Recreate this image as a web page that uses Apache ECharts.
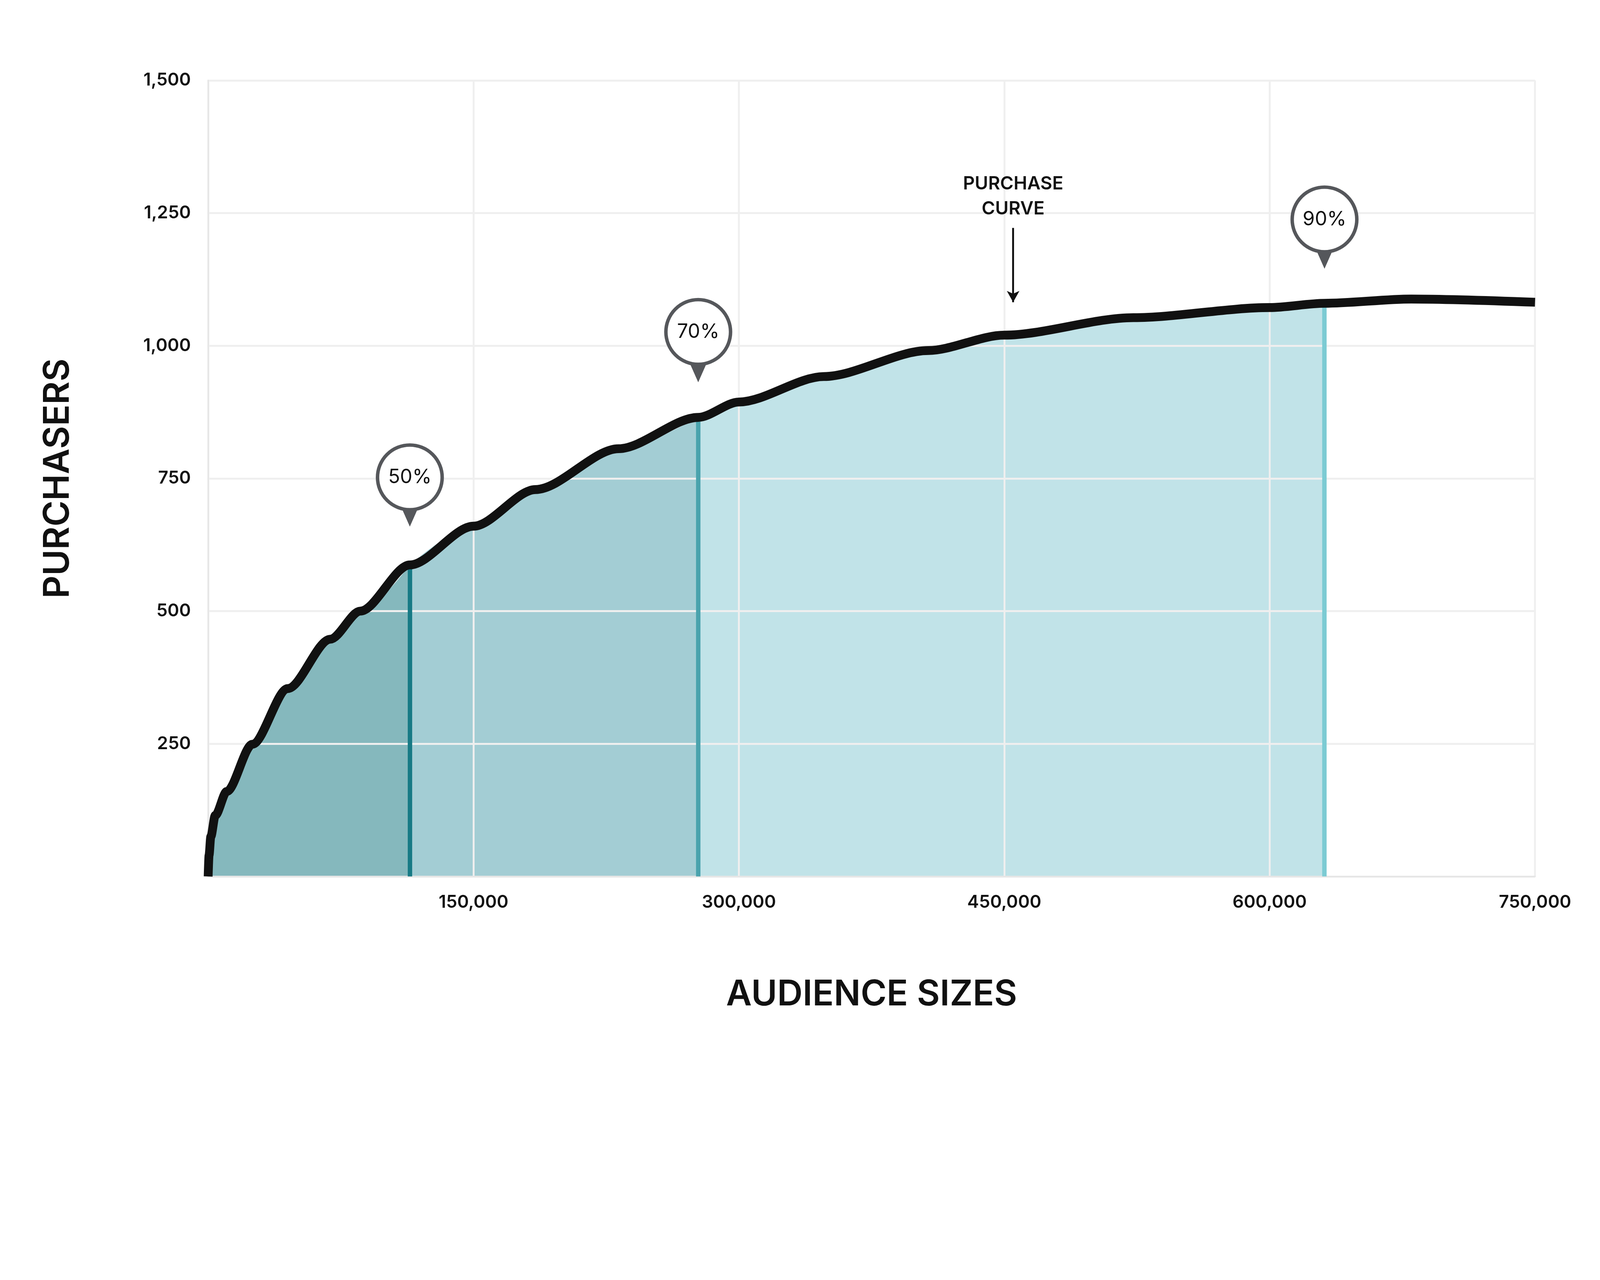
<!DOCTYPE html>
<html><head><meta charset="utf-8">
<script src="https://cdn.jsdelivr.net/npm/echarts@6/dist/echarts.min.js"></script>
<style>html,body{margin:0;background:#fff;overflow:hidden}#c{width:100vw;height:100vh}</style>
</head><body><div id="c"></div>
<script>
const curve = [[0,0],[500,40],[1500,75],[4000,115],[10500,160],[25000,249],[45000,354],[69000,447],[86000,500],[114000,587],[150000,660],[185000,729],[232000,806],[277000,865],[300000,894],[348000,942],[407000,991],[450000,1020],[523000,1053],[600000,1072],[631000,1080],[680000,1088],[750000,1082]];
const bounds = [0,114000,277000,631000];
const fills = ['#85b8bd','#a3cdd4','#c1e3e8'];
const lineColors = ['#177a85','#4aa3ad','#7ccbd3'];
const pins = [{x:114000,cy:752,ty:680,label:'50%'},{x:277000,cy:1026,ty:952,label:'70%'},{x:631000,cy:1238,ty:1166,label:'90%'}];
const yTicks = [250,500,750,1000,1250,1500];
const xTicks = [150000,300000,450000,600000,750000];
const annot = {x:455000,y0:1222,y1:1082,text:'PURCHASE\nCURVE'};

const W = window.innerWidth, H = window.innerHeight;
const s = Math.min(W/5073, H/3277);
const px = v => v*s;

function interp(x){for(let i=1;i<curve.length;i++){if(curve[i][0]>=x){const p=curve[i-1],q=curve[i];return p[1]+(q[1]-p[1])*(x-p[0])/(q[0]-p[0]);}}}
function seg(a,b){
  const pts = curve.filter(p=>p[0]>a && p[0]<b);
  return [[a,interp(a)],...pts,[b,interp(b)]];
}
const series = [];
for(let i=0;i<3;i++){
  series.push({type:'line',data:seg(bounds[i],bounds[i+1]),smooth:0.3,smoothMonotone:'x',symbol:'none',z:-1,
    lineStyle:{width:0},areaStyle:{color:fills[i],opacity:1},
    markLine:{silent:true,symbol:'none',label:{show:false},lineStyle:{color:lineColors[i],width:px(14),type:'solid'},
      data:[[{coord:[bounds[i+1],0]},{coord:[bounds[i+1],interp(bounds[i+1])]}]]}});
}
series.push({type:'line',data:curve,smooth:0.3,smoothMonotone:'x',symbol:'none',z:5,lineStyle:{color:'#111',width:px(28)},
  markPoint:{silent:true,data:[
    ...pins.map(p=>({coord:[p.x,p.ty],symbol:'triangle',symbolRotate:180,symbolSize:[px(62),px(70)],itemStyle:{color:'#55575b'},label:{show:false}})),
    ...pins.map(p=>({coord:[p.x,p.cy],symbol:'circle',symbolSize:px(205),itemStyle:{color:'#fff',borderColor:'#55575b',borderWidth:px(11)},
      label:{show:true,position:'inside',formatter:p.label,color:'#111',fontSize:px(62),fontFamily:'Inter'}}))
  ]},
  markLine:{silent:true,symbol:['none','arrow'],symbolSize:[px(30),px(36)],lineStyle:{color:'#111',width:px(6),type:'solid'},
    label:{show:true,position:'start',formatter:annot.text,color:'#111',fontSize:px(58),fontWeight:600,fontFamily:'Inter',lineHeight:px(80),distance:px(20)},
    data:[[{coord:[annot.x,annot.y0]},{coord:[annot.x,annot.y1]}]]}
});
const lbl = {color:'#111',fontSize:px(56),fontWeight:600,fontFamily:'Inter',margin:px(55),showMinLabel:false};
const nm = {color:'#111',fontSize:px(112),fontWeight:600,fontFamily:'Inter'};
const chart = echarts.init(document.getElementById('c'));
chart.setOption({
  animation:false,
  grid:{left:px(660),right:W-px(4867),top:px(255),bottom:H-px(2779)},
  xAxis:{type:'value',min:0,max:750000,interval:150000,
    axisLine:{show:true,lineStyle:{color:'#e6e6e6',width:px(5)}},axisTick:{show:false},
    splitLine:{show:true,lineStyle:{color:'#efefef',width:px(6)}},
    axisLabel:Object.assign({},lbl,{formatter:v=>xTicks.includes(v)?v.toLocaleString('en-US'):''}),
    name:'AUDIENCE SIZES',nameLocation:'middle',nameGap:px(320),nameTextStyle:nm},
  yAxis:{type:'value',min:0,max:1500,interval:250,
    axisLine:{show:true,lineStyle:{color:'#e6e6e6',width:px(5)}},axisTick:{show:false},
    splitLine:{show:true,lineStyle:{color:'#efefef',width:px(6)}},
    axisLabel:Object.assign({},lbl,{formatter:v=>yTicks.includes(v)?v.toLocaleString('en-US'):''}),
    name:'PURCHASERS',nameLocation:'middle',nameGap:px(420),nameTextStyle:nm},
  series
});
</script></body></html>
